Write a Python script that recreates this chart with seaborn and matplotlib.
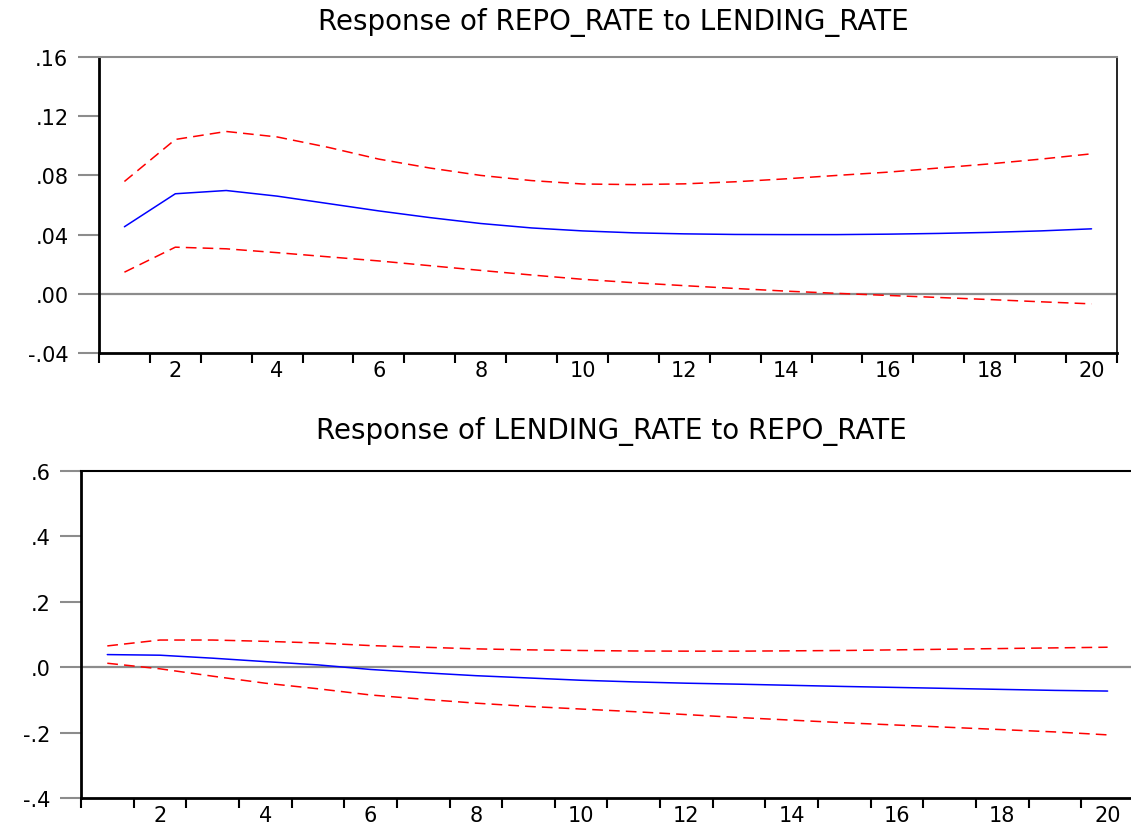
import numpy as np
import pandas as pd
import matplotlib
matplotlib.use("Agg")
import matplotlib.pyplot as plt
from matplotlib.ticker import FixedLocator, FuncFormatter
import seaborn as sns

# ==================== 数据 ====================
periods = list(range(1, 21))

# Response of REPO_RATE to LENDING_RATE
repo_resp = [0.0453, 0.0676, 0.0698, 0.0660, 0.0610, 0.0560, 0.0515, 0.0475, 0.0445, 0.0425,
             0.0412, 0.0405, 0.0401, 0.0400, 0.0400, 0.0403, 0.0408, 0.0415, 0.0425, 0.0439]
repo_upper = [0.0759, 0.1043, 0.1097, 0.1060, 0.0990, 0.0910, 0.0850, 0.0800, 0.0765, 0.0742,
              0.0738, 0.0743, 0.0757, 0.0777, 0.0800, 0.0822, 0.0850, 0.0878, 0.0910, 0.0946]
repo_lower = [0.0146, 0.0315, 0.0304, 0.0278, 0.0250, 0.0222, 0.0190, 0.0158, 0.0127, 0.0098,
              0.0075, 0.0055, 0.0036, 0.0018, 0.0003, -0.0011, -0.0025, -0.0039, -0.0054, -0.0068]

# Response of LENDING_RATE to REPO_RATE
lend_resp = [0.0385, 0.0366, 0.0275, 0.0170, 0.0070, -0.0070, -0.0170, -0.0260, -0.0330, -0.0400,
             -0.0450, -0.0490, -0.0520, -0.0555, -0.0590, -0.0620, -0.0650, -0.0680, -0.0710, -0.0730]
lend_upper = [0.0650, 0.0830, 0.0830, 0.0790, 0.0740, 0.0660, 0.0610, 0.0560, 0.0530, 0.0510,
              0.0495, 0.0490, 0.0490, 0.0500, 0.0510, 0.0530, 0.0550, 0.0570, 0.0590, 0.0610]
lend_lower = [0.0120, -0.0050, -0.0275, -0.0490, -0.0660, -0.0850, -0.0980, -0.1100, -0.1200, -0.1280,
              -0.1360, -0.1450, -0.1540, -0.1620, -0.1700, -0.1770, -0.1840, -0.1910, -0.1980, -0.2070]

panels = [
    ("Response of REPO_RATE to LENDING_RATE", repo_resp, repo_upper, repo_lower,
     [-0.04, 0.00, 0.04, 0.08, 0.12, 0.16], "{:.2f}"),
    ("Response of LENDING_RATE to REPO_RATE", lend_resp, lend_upper, lend_lower,
     [-0.4, -0.2, 0.0, 0.2, 0.4, 0.6], "{:.1f}"),
]

# ==================== 样式 ====================
sns.set_style("ticks")
plt.rcParams['font.family'] = ['DejaVu Sans']
plt.rcParams['text.color'] = 'black'
plt.rcParams['xtick.labelcolor'] = 'black'
plt.rcParams['ytick.labelcolor'] = 'black'

fig = plt.figure(figsize=(11.31, 8.29), dpi=100)
# 轴位置 (figure fraction)
ax_top = fig.add_axes([0.0875, 0.573, 0.9001, 0.357])
ax_bot = fig.add_axes([0.0716, 0.0362, 0.931, 0.3945])


def eviews_fmt(fmt):
    # EViews 风格：去掉前导 0，例如 .16 / -.04
    def f(v, pos):
        s = fmt.format(0.0 if abs(v) < 1e-12 else v)
        s = s.replace("0.", ".", 1) if s.startswith("0.") else s.replace("-0.", "-.", 1)
        return s
    return FuncFormatter(f)


for ax, (title, resp, upper, lower, yticks, fmt) in zip([ax_top, ax_bot], panels):
    df = pd.DataFrame({
        "period": periods * 3,
        "value": resp + upper + lower,
        "series": ["resp"] * 20 + ["upper"] * 20 + ["lower"] * 20,
    })
    ax.axhline(0, color="#8c8c8c", lw=1.6, zorder=1)
    sns.lineplot(data=df[df.series == "resp"], x="period", y="value",
                 color="#0000ff", lw=1.1, ax=ax, zorder=3)
    for name in ["upper", "lower"]:
        sns.lineplot(data=df[df.series == name], x="period", y="value",
                     color="#ff0000", lw=1.1, ax=ax, zorder=2,
                     dashes=False, linestyle=(0, (7, 4)))

    ax.set_xlim(0.5, 20.5)
    ax.set_ylim(yticks[0], yticks[-1])
    ax.set_xlabel("")
    ax.set_ylabel("")

    # x: 标签在偶数期，刻度线在期间边界
    ax.xaxis.set_major_locator(FixedLocator(list(range(2, 21, 2))))
    ax.xaxis.set_minor_locator(FixedLocator([p - 0.5 for p in periods] + [20.5]))
    ax.tick_params(axis="x", which="major", length=0, pad=5, labelsize=15)
    ax.tick_params(axis="x", which="minor", length=7, width=1.5, color="black", direction="out")

    ax.set_yticks(yticks)
    ax.yaxis.set_major_formatter(eviews_fmt(fmt))
    ax.tick_params(axis="y", which="major", length=15, width=1.5, color="#8c8c8c",
                   pad=7, labelsize=15)

    for side in ["left", "bottom"]:
        ax.spines[side].set_linewidth(2)
        ax.spines[side].set_color("black")
    ax.spines["right"].set_visible(True)
    ax.spines["top"].set_visible(True)
    ax.spines["right"].set_linewidth(1.2)
    ax.spines["top"].set_linewidth(1.5)
    ax.grid(False)
    if ax.get_legend():
        ax.get_legend().remove()

ax_top.spines["top"].set_color("#8c8c8c")
ax_top.spines["right"].set_color("black")
ax_bot.spines["top"].set_color("black")

fig.text(0.542, 0.973, panels[0][0], ha="center", va="center", fontsize=20)
fig.text(0.541, 0.479, panels[1][0], ha="center", va="center", fontsize=20)

plt.savefig("out.png", dpi=100)
plt.close()
